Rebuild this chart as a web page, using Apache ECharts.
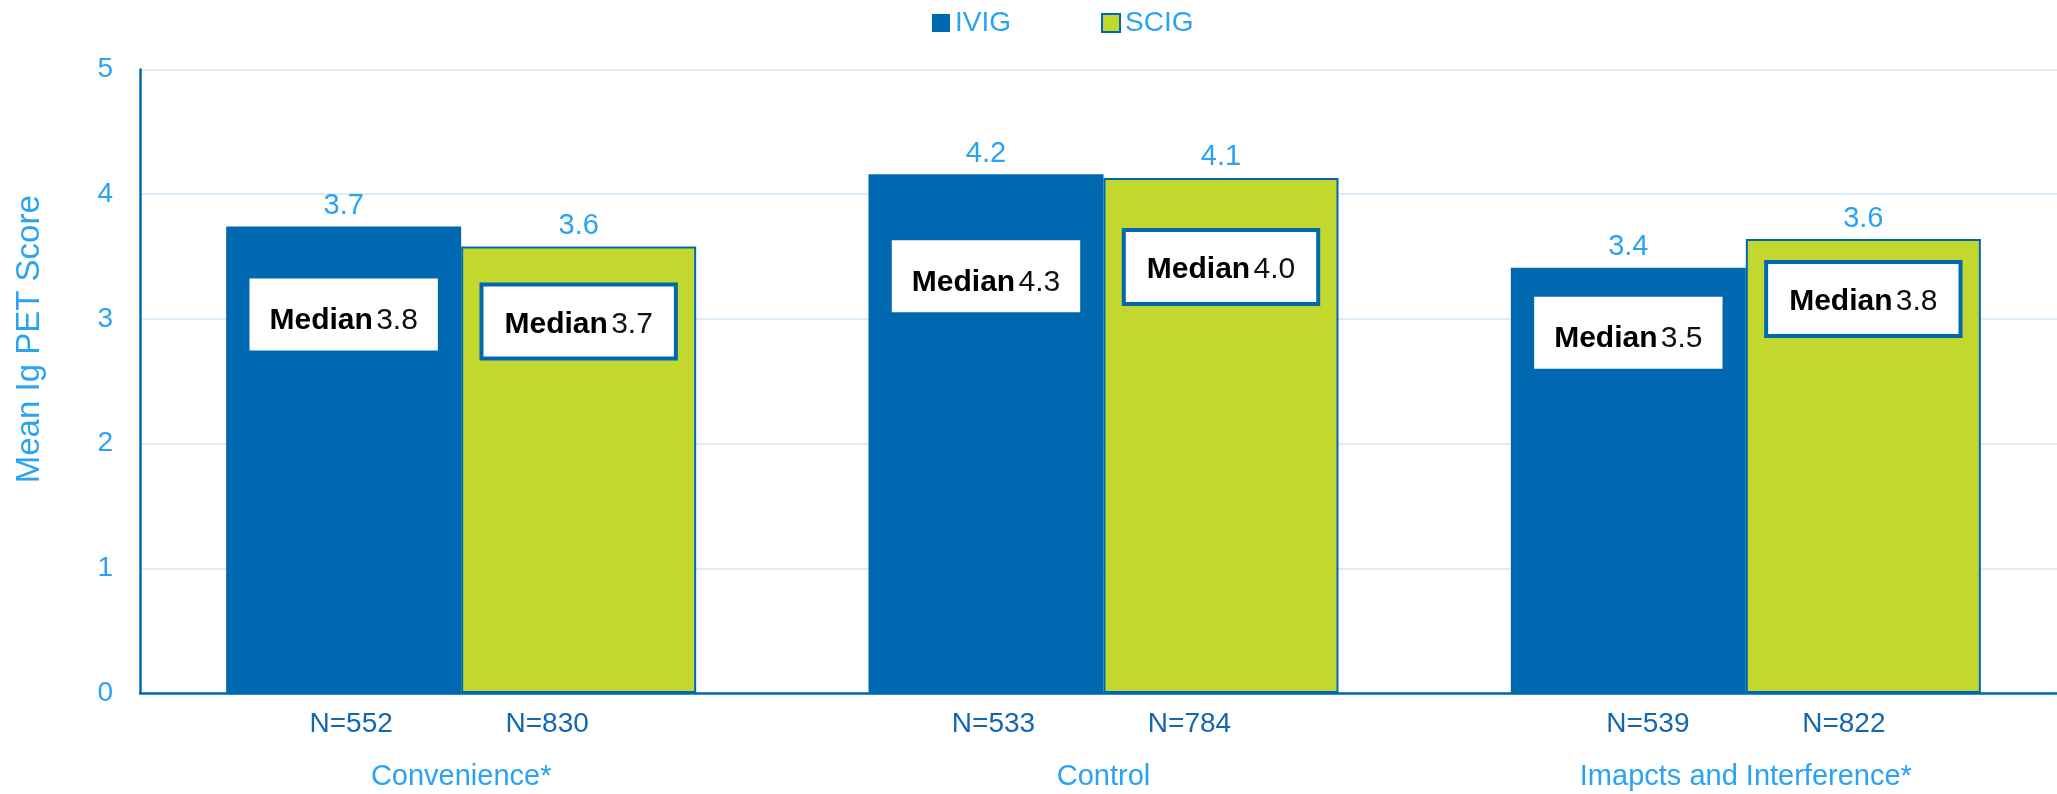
<!DOCTYPE html>
<html>
<head>
<meta charset="utf-8">
<title>Mean Ig PET Score</title>
<script src="https://cdn.jsdelivr.net/npm/echarts@6/dist/echarts.min.js"></script>
<style>
html, body { margin: 0; padding: 0; background: #fff; }
#main_chart { width: 2057px; height: 794px; }
</style>
</head>
<body>
<div id="main_chart"></div>
<script>
// data
var categories = ['Convenience*', 'Control', 'Imapcts and Interference*'];
var ivigMean = [3.74, 4.16, 3.41];
var scigMean = [3.58, 4.13, 3.64];
var ivigMedian = [3.8, 4.3, 3.5];
var scigMedian = [3.7, 4.0, 3.8];
var ivigN = [552, 533, 539];
var scigN = [830, 784, 822];
var yTicks = [0, 1, 2, 3, 4, 5];

// layout: how far (px) each median box hangs below its bar top,
// and how far the N= row is pulled left of the category centre
var ivigBoxDrop = [52, 66, 29];
var scigBoxDrop = [40, 54, 25];
var nRowShift = [12, 12, 0];

var BLUE = '#0068b1', GREEN = '#c2d82e', LIGHT = '#29a3f2', NAVY = '#1466af';
var BAR_W = 235;
var FONT = '"Liberation Sans", Arial, sans-serif';

var main_chart = echarts.init(document.getElementById('main_chart'));

var medianRich = {
    b: { fontFamily: FONT, fontSize: 30, fontWeight: 'bold', color: '#000', lineHeight: 32 },
    v: { fontFamily: FONT, fontSize: 30, color: '#111', lineHeight: 32 }
};

var medianSeries = function(name, values, medians, drops, boxed){
    return {
        name: name,
        type: 'bar',
        xAxisIndex: 1,
        barWidth: BAR_W,
        barGap: 0,
        silent: true,
        z: 5,
        itemStyle: { color: 'rgba(0,0,0,0)' },
        data: values.map(function(v, i){
            return { value: v, label: { distance: drops[i] } };
        }),
        label: {
            show: true,
            position: 'insideTop',
            backgroundColor: '#fff',
            borderColor: boxed ? BLUE : 'transparent',
            borderWidth: boxed ? 4 : 0,
            padding: boxed ? [22, 21, 16, 21] : [26, 20, 14, 20],
            formatter: function(p){
                return '{b|Median} {v|' + medians[p.dataIndex].toFixed(1) + '}';
            },
            rich: medianRich
        }
    };
};

var valueLabel = {
    show: true,
    position: 'top',
    distance: 6,
    color: LIGHT,
    fontFamily: FONT,
    fontSize: 29,
    formatter: function(p){ return p.value.toFixed(1); }
};

var chartOpt = {
    animation: false,
    textStyle: { fontFamily: FONT },
    legend: {
        data: ['IVIG', 'SCIG'],
        left: 927,
        top: 4,
        itemWidth: 18,
        itemHeight: 18,
        itemGap: 90,
        icon: 'rect',
        textStyle: { color: LIGHT, fontSize: 28, fontFamily: FONT }
    },
    grid: { left: 140, right: -10, top: 69.5, bottom: 101, containLabel: false, outerBoundsMode: 'none' },
    xAxis: [{
        type: 'category',
        data: categories,
        axisLine: { show: true, lineStyle: { color: BLUE, width: 2.5 } },
        axisTick: { show: false },
        axisLabel: {
            interval: 0,
            margin: 16,
            formatter: function(value, index){
                var row = '{n|N=' + ivigN[index] + '}{n|N=' + scigN[index] + '}';
                if (nRowShift[index]) {
                    row += '{s' + nRowShift[index] + '| }';
                }
                return row + '\n{c|' + value + '}';
            },
            rich: {
                n: { width: 196, align: 'center', color: NAVY, fontSize: 28, fontFamily: FONT, lineHeight: 30 },
                s12: { width: 24, align: 'center', fontSize: 28, lineHeight: 30 },
                c: { align: 'center', color: LIGHT, fontSize: 29, fontFamily: FONT, lineHeight: 76 }
            }
        }
    }, {
        type: 'category',
        data: categories,
        position: 'top',
        show: false
    }],
    yAxis: {
        type: 'value',
        min: yTicks[0],
        max: yTicks[yTicks.length - 1],
        interval: 1,
        name: 'Mean Ig PET Score',
        nameLocation: 'middle',
        nameGap: 94,
        nameTextStyle: { color: LIGHT, fontSize: 33, fontFamily: FONT, padding: [0, 0, 0, 84] },
        axisLine: { show: true, lineStyle: { color: BLUE, width: 2.5 } },
        axisTick: { show: false },
        axisLabel: { color: LIGHT, fontSize: 28, fontFamily: FONT, margin: 27 },
        splitLine: { lineStyle: { color: '#cfe7f8', width: 1.5 } }
    },
    series: [{
        name: 'IVIG',
        type: 'bar',
        barWidth: BAR_W,
        barGap: 0,
        itemStyle: { color: BLUE },
        label: valueLabel,
        data: ivigMean
    }, {
        name: 'SCIG',
        type: 'bar',
        barWidth: BAR_W,
        barGap: 0,
        itemStyle: { color: GREEN, borderColor: BLUE, borderWidth: 2 },
        label: valueLabel,
        data: scigMean
    },
    medianSeries('IVIG median', ivigMean, ivigMedian, ivigBoxDrop, false),
    medianSeries('SCIG median', scigMean, scigMedian, scigBoxDrop, true)]
};

main_chart.setOption(chartOpt);
</script>
</body>
</html>
